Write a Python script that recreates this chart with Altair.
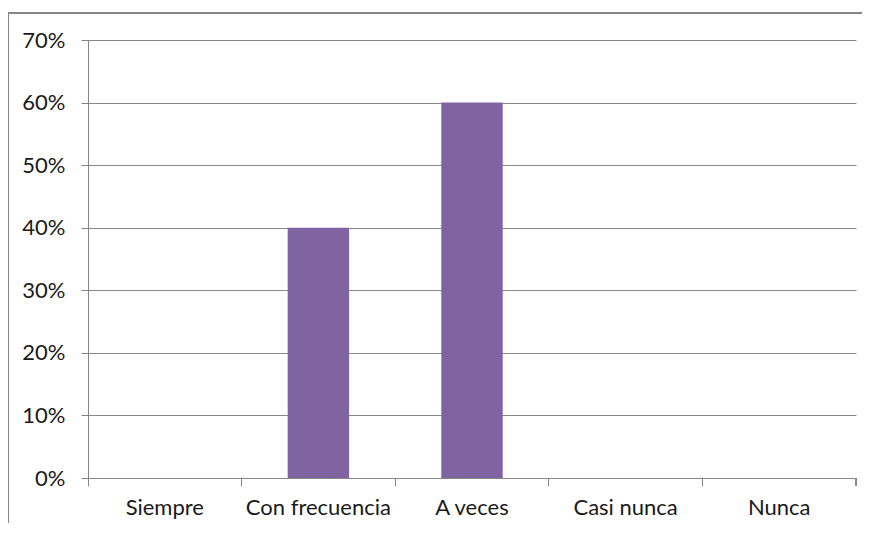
import altair as alt
import pandas as pd

categories = ["Siempre", "Con frecuencia", "A veces", "Casi nunca", "Nunca"]
values = [0.0, 0.40, 0.60, 0.0, 0.0]

df = pd.DataFrame({"cat": categories, "val": values})

GRAY = "#868686"
FONT = "Lato"
FS = 22

W, H = 768, 438

x = alt.X("cat:N", sort=categories, title=None,
          scale=alt.Scale(paddingInner=0, paddingOuter=0),
          axis=alt.Axis(bandPosition=0, labelAngle=0, tickSize=8, tickColor=GRAY,
                        domainColor=GRAY, labelPadding=11, labelFontSize=FS,
                        labelFont=FONT, labelColor="#1a1a1a", grid=False))
y = alt.Y("val:Q", title=None,
          scale=alt.Scale(domain=[0, 0.7], nice=False),
          axis=alt.Axis(format=".0%", values=[0, 0.1, 0.2, 0.3, 0.4, 0.5, 0.6, 0.7],
                        tickSize=7, tickColor=GRAY, domainColor=GRAY, gridColor=GRAY,
                        labelPadding=16, labelFontSize=FS, labelFont=FONT,
                        labelColor="#1a1a1a"))

bars = alt.Chart(df).mark_bar(color="#8064A2", width=alt.RelativeBandSize(0.4)).encode(x=x, y=y)

end_tick = alt.Chart(df).mark_rule(color=GRAY).encode(
    x=alt.value(W), y=alt.value(H), y2=alt.value(H + 8))

frame_top = alt.Chart(df).mark_rule(color=GRAY, strokeWidth=2).encode(
    x=alt.value(-80), x2=alt.value(800), y=alt.value(-27))
frame_left = alt.Chart(df).mark_rule(color=GRAY, strokeWidth=2).encode(
    x=alt.value(-80), y=alt.value(-27), y2=alt.value(520))

chart = alt.layer(bars, end_tick, frame_top, frame_left).properties(
    width=W, height=H,
    autosize=alt.AutoSizeParams(type="none"),
    padding={"left": 80, "top": 32, "right": 854 - 80 - W, "bottom": 515 - 32 - H},
).configure_view(stroke=None)

chart.save("out.html", embed_options={"renderer": "svg", "actions": False})
